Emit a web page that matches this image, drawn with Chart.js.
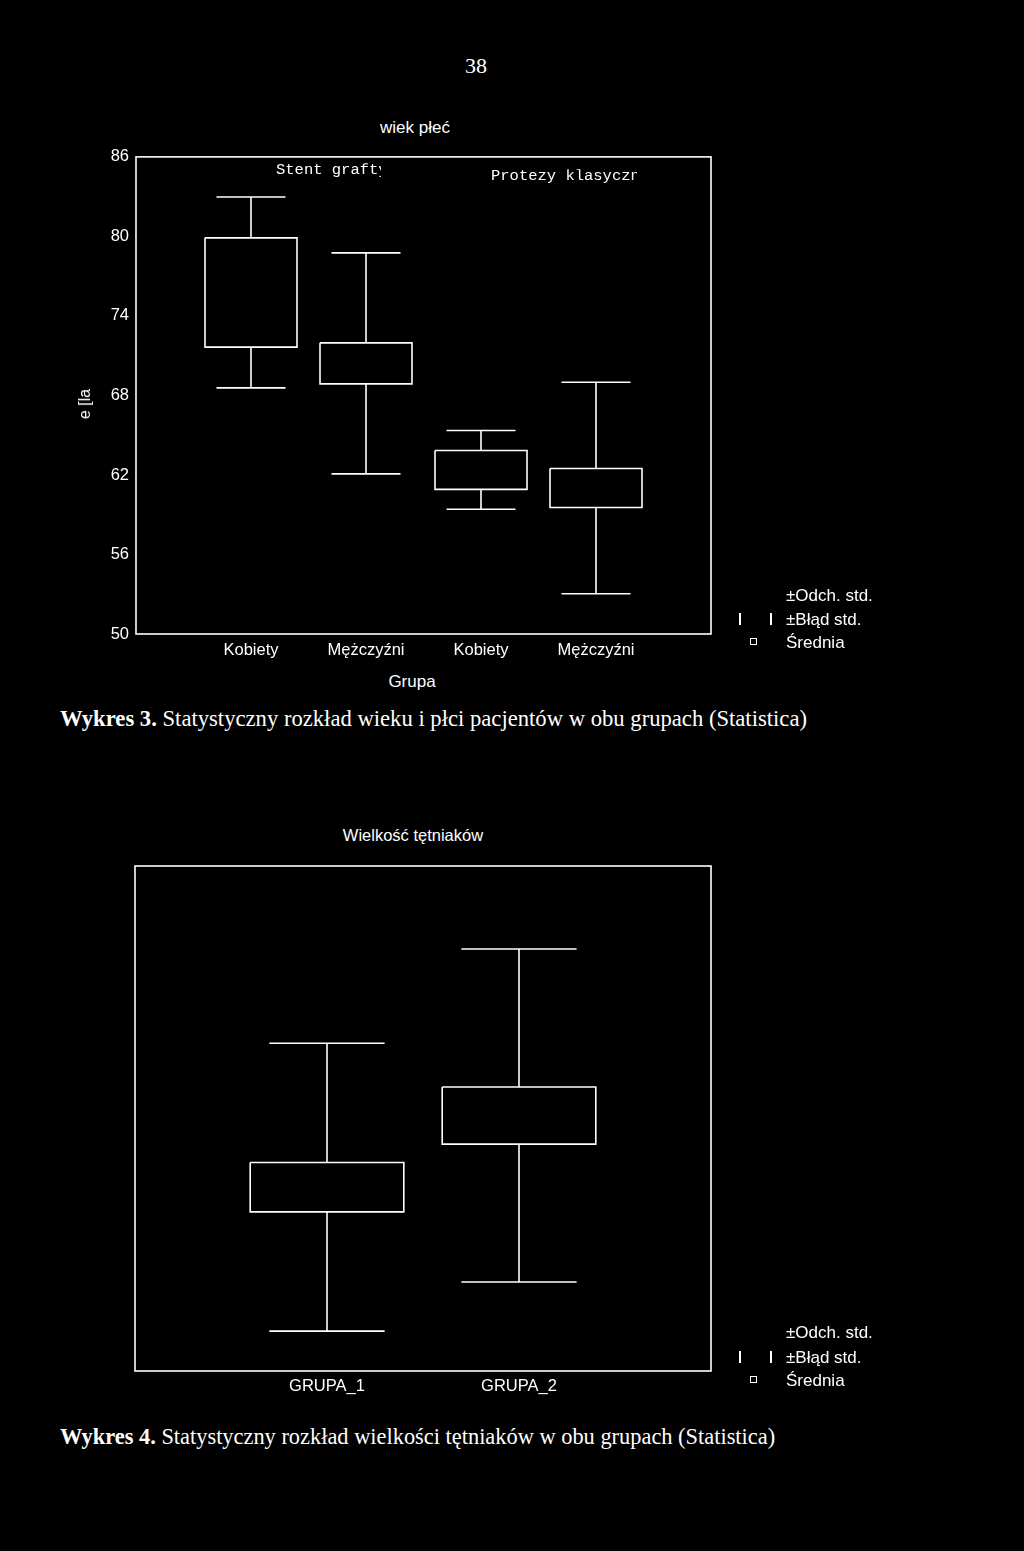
<!DOCTYPE html>
<html>
<head>
<meta charset="utf-8">
<script src="https://cdn.jsdelivr.net/npm/chart.js"></script>
<style>
  html, body { margin: 0; padding: 0; background: #000; }
  body { width: 1024px; height: 1551px; position: relative; overflow: hidden; color: #fff; font-family: "Liberation Sans", Arial, sans-serif; }
  canvas { position: absolute; left: 0; }
  .t { position: absolute; white-space: nowrap; line-height: 1; }
  .c { transform: translate(-50%, -50%); }
  .l { transform: translate(0, -50%); }
  .serif { font-family: "Liberation Serif", "Times New Roman", serif; }
  .mono { font-family: "Liberation Mono", "Courier New", monospace; overflow: hidden; }
  .bar { position: absolute; width: 1.5px; height: 12px; background: #fff; }
  .sq { position: absolute; width: 5px; height: 5px; border: 1.3px solid #fff; }
</style>
</head>
<body>
<div class="t serif c" style="left:476px; top:66px; font-size:22px;">38</div>

<!-- Chart 1 -->
<div class="t c" style="left:415px; top:127px; font-size:17px;">wiek płeć</div>
<canvas id="c1" width="1024" height="530" style="top:140px;"></canvas>
<div class="t mono l" id="sub1" style="left:276px; top:171px; font-size:15.5px; width:105px;"></div>
<div class="t mono l" id="sub2" style="left:491px; top:177px; font-size:15.5px; width:146px;"></div>
<div class="t" style="left:85px; top:404px; font-size:16px; transform: translate(-50%,-50%) rotate(-90deg);">e [la</div>
<div class="t c" style="left:412px; top:681px; font-size:17px;">Grupa</div>
<div class="t l" style="left:786px; top:595px; font-size:17px;">±Odch. std.</div>
<div class="bar" style="left:739px; top:613px;"></div>
<div class="bar" style="left:770px; top:613px;"></div>
<div class="t l" style="left:786px; top:619px; font-size:17px;">±Błąd std.</div>
<div class="sq" style="left:750px; top:638px;"></div>
<div class="t l" style="left:786px; top:642px; font-size:17px;">Średnia</div>
<div class="t serif l" id="cap1" style="left:60px; top:719px; font-size:22.65px;"><b>Wykres 3.</b> Statystyczny rozkład wieku i płci pacjentów w obu grupach (Statistica)</div>

<!-- Chart 2 -->
<div class="t c" style="left:413px; top:835px; font-size:16.5px;">Wielkość tętniaków</div>
<canvas id="c2" width="1024" height="560" style="top:850px;"></canvas>
<div class="t l" style="left:786px; top:1332px; font-size:17px;">±Odch. std.</div>
<div class="bar" style="left:739px; top:1351px;"></div>
<div class="bar" style="left:770px; top:1351px;"></div>
<div class="t l" style="left:786px; top:1357px; font-size:17px;">±Błąd std.</div>
<div class="sq" style="left:750px; top:1376px;"></div>
<div class="t l" style="left:786px; top:1380px; font-size:17px;">Średnia</div>
<div class="t serif l" id="cap2" style="left:60px; top:1437px; font-size:22.4px;"><b>Wykres 4.</b> Statystyczny rozkład wielkości tętniaków w obu grupach (Statistica)</div>

<script>
// ---------- Data: Wykres 3 (wiek / płeć) ----------
const groups1 = ['Kobiety', 'Mężczyźni', 'Kobiety', 'Mężczyźni'];
const subgroups1 = ['Stent grafty', 'Protezy klasyczne'];
const means1 = [75.77, 70.42, 62.38, 61.02];
const se1 = [4.12, 1.55, 1.47, 1.47];
const sd1 = [7.20, 8.34, 2.97, 7.98];
const yTicks1 = [50, 56, 62, 68, 74, 80, 86];

// ---------- Data: Wykres 4 (wielkość tętniaków) ----------
const groups2 = ['GRUPA_1', 'GRUPA_2'];
const means2 = [51.84, 60.35];
const se2 = [2.93, 3.40];
const sd2 = [17.10, 19.78];

document.getElementById('sub1').textContent = subgroups1[0];
document.getElementById('sub2').textContent = subgroups1[1];

const BOX_HALF = 0.4, CAP_HALF = 0.3, LW = 1.6;

function buildDatasets(means, se, sd) {
  const ds = [];
  means.forEach((m, i) => {
    const x = i + 1;
    ds.push({
      data: [
        {x: x - BOX_HALF, y: m + se[i]}, {x: x + BOX_HALF, y: m + se[i]},
        {x: x + BOX_HALF, y: m - se[i]}, {x: x - BOX_HALF, y: m - se[i]},
        {x: x - BOX_HALF, y: m + se[i]}
      ]
    });
    ds.push({
      data: [
        {x: x, y: m + se[i]}, {x: x, y: m + sd[i]}, {x: x, y: null},
        {x: x - CAP_HALF, y: m + sd[i]}, {x: x + CAP_HALF, y: m + sd[i]}, {x: x, y: null},
        {x: x, y: m - se[i]}, {x: x, y: m - sd[i]}, {x: x, y: null},
        {x: x - CAP_HALF, y: m - sd[i]}, {x: x + CAP_HALF, y: m - sd[i]}
      ]
    });
  });
  return ds.map(d => Object.assign(d, {
    showLine: true, borderColor: '#fff', borderWidth: LW, pointRadius: 0,
    fill: false, tension: 0, spanGaps: false, borderCapStyle: 'butt'
  }));
}

const framePlugin = {
  id: 'frame',
  beforeDatasetsDraw(chart) {
    const a = chart.chartArea, ctx = chart.ctx;
    ctx.save();
    ctx.strokeStyle = '#fff';
    ctx.lineWidth = LW;
    ctx.strokeRect(a.left, a.top, a.right - a.left, a.bottom - a.top);
    ctx.restore();
  }
};

const tickFont = {family: '"Liberation Sans", Arial, sans-serif', size: 16.5};

function makeChart(id, labels, means, se, sd, cfg) {
  return new Chart(document.getElementById(id), {
    type: 'scatter',
    data: {datasets: buildDatasets(means, se, sd)},
    options: {
      responsive: false, animation: false, devicePixelRatio: 1,
      layout: {padding: cfg.padding},
      plugins: {legend: {display: false}, tooltip: {enabled: false}, title: {display: false}},
      scales: {
        x: {
          type: 'linear', min: 0, max: labels.length + 1,
          grid: {display: false, drawTicks: false}, border: {display: false},
          afterFit: s => { s.height = cfg.xHeight; },
          afterBuildTicks: s => { s.ticks = labels.map((_, i) => ({value: i + 1})); },
          ticks: {
            color: '#fff', font: tickFont, padding: cfg.xPad, autoSkip: false, maxRotation: 0,
            callback: v => labels[v - 1] || ''
          }
        },
        y: {
          type: 'linear', min: cfg.yMin, max: cfg.yMax, display: cfg.yTicks ? true : false,
          grid: {display: false, drawTicks: false}, border: {display: false},
          afterFit: s => { s.width = cfg.yWidth; },
          afterBuildTicks: s => { if (cfg.yTicks) s.ticks = cfg.yTicks.map(v => ({value: v})); },
          ticks: {color: '#fff', font: tickFont, padding: 7}
        }
      }
    },
    plugins: [framePlugin]
  });
}

makeChart('c1', groups1, means1, se1, sd1, {
  padding: {left: 96, right: 313, top: 15, bottom: 0},
  xHeight: 36, xPad: 7, yWidth: 40, yMin: 50, yMax: 86, yTicks: yTicks1
});

makeChart('c2', groups2, means2, se2, sd2, {
  padding: {left: 135, right: 313, top: 16, bottom: 0},
  xHeight: 39, xPad: 6, yWidth: 0, yMin: 30, yMax: 90, yTicks: null
});
</script>
</body>
</html>
